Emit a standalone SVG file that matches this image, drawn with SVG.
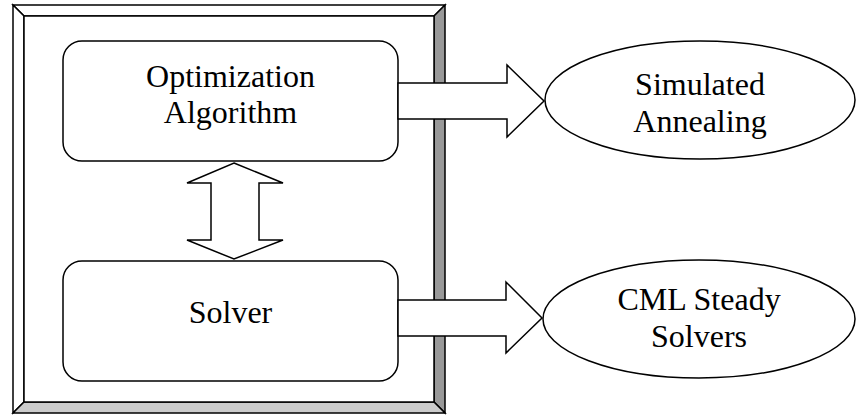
<svg xmlns="http://www.w3.org/2000/svg" width="866" height="419" viewBox="0 0 866 419">
<style>
.ln{stroke:#000;stroke-width:1.5;stroke-linejoin:miter}
.w{fill:#fff}
.t{font-family:"Liberation Serif","Times New Roman",serif;font-size:32px;fill:#000;text-anchor:middle}
</style>
<rect width="866" height="419" fill="#fff"/>
<g id="frame">
<polygon class="ln w" points="13,5 445,5 434,16 24,16"/>
<polygon class="ln w" points="13,5 24,16 24,402 13,413"/>
<polygon class="ln" fill="#999" points="445,5 445,413 434,402 434,16"/>
<polygon class="ln" fill="#ccc" points="13,413 24,402 434,402 445,413"/>
<rect class="ln w" x="24" y="16" width="410" height="386"/>
</g>
<g id="optimization">
<rect class="ln w" x="63" y="41" width="335" height="120" rx="19" ry="19"/>
<text class="t" x="230.5" y="87">Optimization</text>
<text class="t" x="230.5" y="123">Algorithm</text>
</g>
<g id="solver">
<rect class="ln w" x="63" y="261" width="335" height="120" rx="19" ry="19"/>
<text class="t" x="230.5" y="323">Solver</text>
</g>
<g id="annealing">
<ellipse class="ln w" cx="700" cy="100" rx="155" ry="59"/>
<text class="t" x="700" y="95">Simulated</text>
<text class="t" x="700" y="131.5">Annealing</text>
</g>
<g id="cml">
<ellipse class="ln w" cx="699" cy="319" rx="156" ry="59"/>
<text class="t" x="699" y="310">CML Steady</text>
<text class="t" x="699" y="346.5">Solvers</text>
</g>
<g id="connectors">
<polygon class="ln w" points="398,83 507,83 507,65 544,101 507,137 507,119 398,119"/>
<polygon class="ln w" points="398,300 506,300 506,282 542,318 506,353 506,336 398,336"/>
<polygon class="ln w" points="234,163 283,183 259,183 259,240 283,240 234,259 187,240 211,240 211,183 187,183"/>
</g>
</svg>
